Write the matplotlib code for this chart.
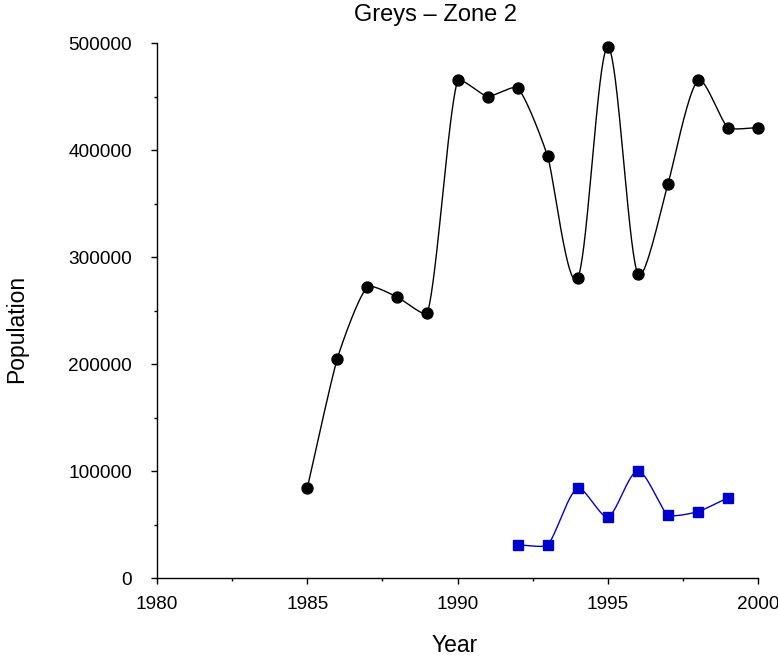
import numpy as np
import matplotlib
matplotlib.use("Agg")
import matplotlib.pyplot as plt
from matplotlib.ticker import MultipleLocator

plt.rcParams['font.family'] = ['Liberation Sans', 'DejaVu Sans']

years_black = [1985, 1986, 1987, 1988, 1989, 1990, 1991, 1992, 1993, 1994, 1995, 1996, 1997, 1998, 1999, 2000]
pop_black = [84000, 205000, 272000, 262500, 247500, 465000, 450000, 458000, 394000, 280500, 496000, 284000, 368000, 465000, 421000, 421000]

years_blue = [1992, 1993, 1994, 1995, 1996, 1997, 1998, 1999]
pop_blue = [31000, 31000, 84000, 57000, 100000, 59000, 62000, 75000]


def smooth_display(ax, x, y, n=40, c=0.5, lim=0.25):
    """Parametric Catmull-Rom style spline computed in display space, returned in data coords."""
    pts = ax.transData.transform(np.column_stack([x, y]))
    N = len(pts)
    tang = np.zeros_like(pts)
    for k in range(N):
        if k == 0:
            tang[k] = pts[1] - pts[0]
        elif k == N - 1:
            tang[k] = pts[-1] - pts[-2]
        else:
            tang[k] = c * (pts[k + 1] - pts[k - 1])
    out = []
    t = np.linspace(0, 1, n)[:, None]
    h00 = 2 * t**3 - 3 * t**2 + 1
    h10 = t**3 - 2 * t**2 + t
    h01 = -2 * t**3 + 3 * t**2
    h11 = t**3 - t**2
    for k in range(N - 1):
        chord = np.linalg.norm(pts[k + 1] - pts[k])
        m0 = tang[k].copy()
        m1 = tang[k + 1].copy()
        for m in (m0, m1):
            nm = np.linalg.norm(m)
            if nm > lim * chord * 2 and nm > 0:
                m *= lim * chord * 2 / nm
        seg = h00 * pts[k] + h10 * m0 + h01 * pts[k + 1] + h11 * m1
        out.append(seg)
    out = np.vstack(out)
    data = ax.transData.inverted().transform(out)
    return data[:, 0], data[:, 1]


fig = plt.figure(figsize=(7.78, 6.65), dpi=100)
ax = fig.add_axes([0.2018, 0.1308, 0.7725, 0.8045])
ax.set_xlim(1980, 2000)
ax.set_ylim(0, 500000)

xb, yb = smooth_display(ax, years_black, pop_black)
ax.plot(xb, yb, color='black', lw=1.0, clip_on=False)
ax.plot(years_black, pop_black, 'o', color='black', ms=7.9, clip_on=False)

xu, yu = smooth_display(ax, years_blue, pop_blue)
ax.plot(xu, yu, color='#0000CC', lw=1.0, clip_on=False)
ax.plot(years_blue, pop_blue, 's', color='#0000CC', ms=7.6, clip_on=False)

ax.xaxis.set_major_locator(MultipleLocator(5))
ax.xaxis.set_minor_locator(MultipleLocator(2.5))
ax.yaxis.set_major_locator(MultipleLocator(100000))
ax.yaxis.set_minor_locator(MultipleLocator(50000))
ax.tick_params(which='major', length=4, width=1, labelsize=13.7, direction='out')
ax.tick_params(axis='y', which='major', pad=14)
ax.tick_params(axis='x', which='major', pad=9)
ax.tick_params(which='minor', length=2.2, width=1, direction='out')
for s in ['top', 'right']:
    ax.spines[s].set_visible(False)
for s in ['left', 'bottom']:
    ax.spines[s].set_linewidth(1.0)

fig.text(435 / 778, 1 - 15 / 665, 'Greys – Zone 2', fontsize=17, ha='center', va='center')
fig.text(455 / 778, 1 - 646 / 665, 'Year', fontsize=16.5, ha='center', va='center')
fig.text(17 / 778, 1 - 329 / 665, 'Population', fontsize=16.5, ha='center', va='center', rotation=90)

fig.savefig('out.png', dpi=100)
